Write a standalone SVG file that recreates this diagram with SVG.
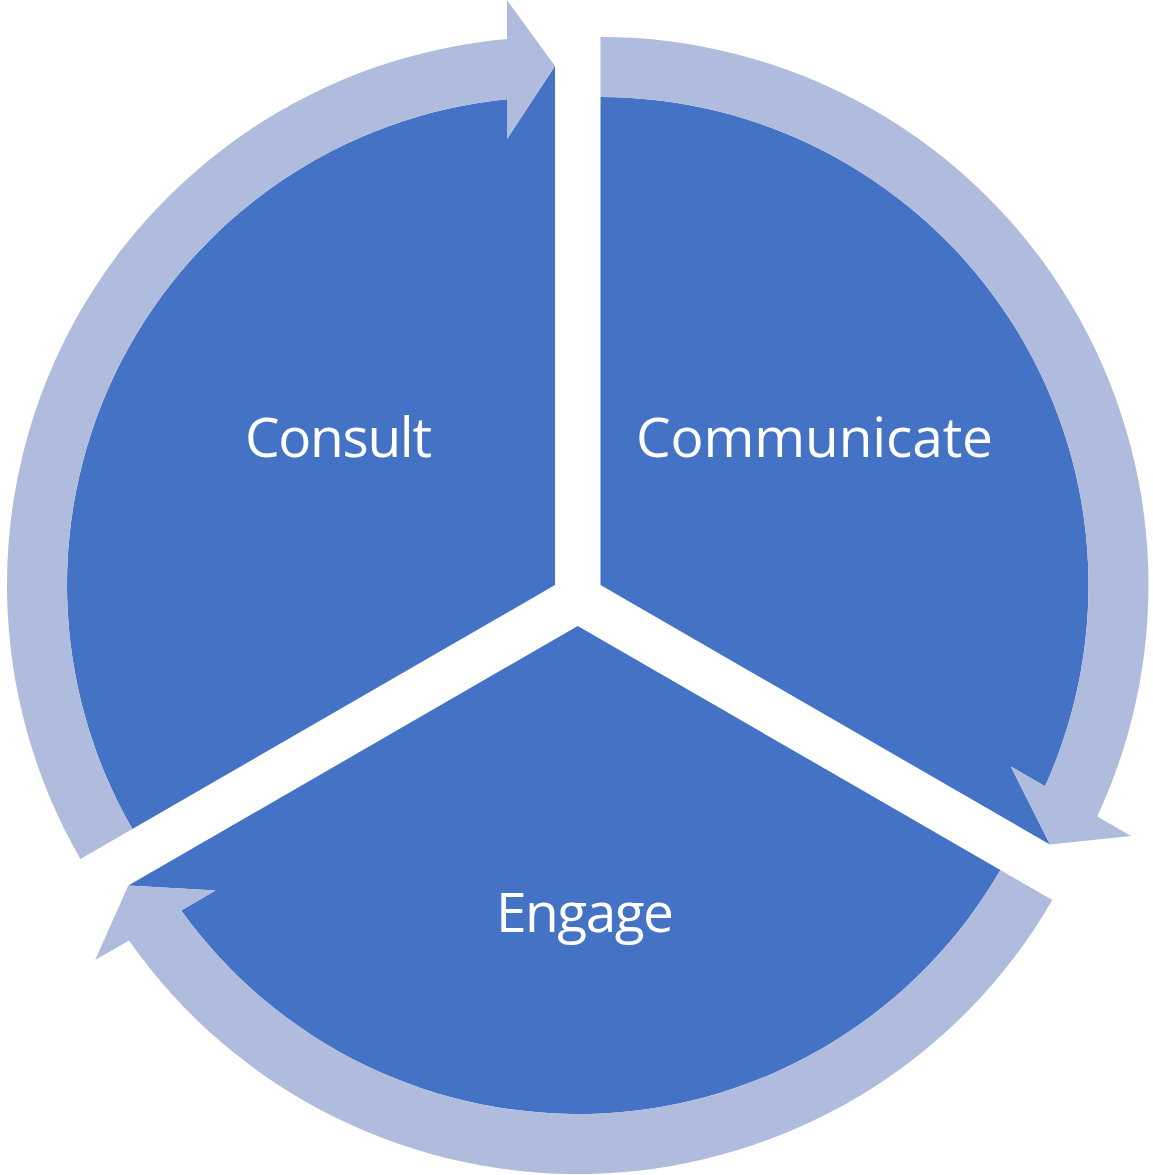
<svg xmlns="http://www.w3.org/2000/svg" xmlns:xlink="http://www.w3.org/1999/xlink" width="1153" height="1175" viewBox="0 0 1153 1175">
  <style>
    .sector { fill: #4472C4; }
    .band { fill: #AFBCDE; }
    .label { fill: #FFFFFF; font-family: "Open Sans", "Noto Sans", "DejaVu Sans", sans-serif; font-size: 55px; text-anchor: middle; }
  </style>
  <defs>
    <path id="sectorShape" d="M0,0 V-519 L-48,-446 L-48,-485.63 A488,488 0 0 0 -422.62,244 Z"/>
    <path id="arrowShape" d="M-422.62,244 L-474.58,274 A548,548 0 0 1 -48,-545.89 L-48,-585 L0,-519 L-48,-446 L-48,-485.63 A488,488 0 0 0 -422.62,244 Z"/>
  </defs>
  <rect width="1153" height="1175" fill="#FFFFFF"/>
  <g id="consult">
    <use xlink:href="#sectorShape" class="sector" transform="translate(555,585)"/>
    <text class="label" x="338.5" y="457" textLength="187">Consult</text>
  </g>
  <g id="communicate">
    <use xlink:href="#sectorShape" class="sector" transform="translate(600.5,585) rotate(120)"/>
    <text class="label" x="814.5" y="457" textLength="357">Communicate</text>
  </g>
  <g id="engage">
    <use xlink:href="#sectorShape" class="sector" transform="translate(577.75,626) rotate(240)"/>
    <text class="label" x="585" y="932" textLength="178">Engage</text>
  </g>
  <g id="connectors">
    <use xlink:href="#arrowShape" class="band" transform="translate(555,585)"/>
    <use xlink:href="#arrowShape" class="band" transform="translate(600.5,585) rotate(120)"/>
    <use xlink:href="#arrowShape" class="band" transform="translate(577.75,626) rotate(240)"/>
  </g>
</svg>
